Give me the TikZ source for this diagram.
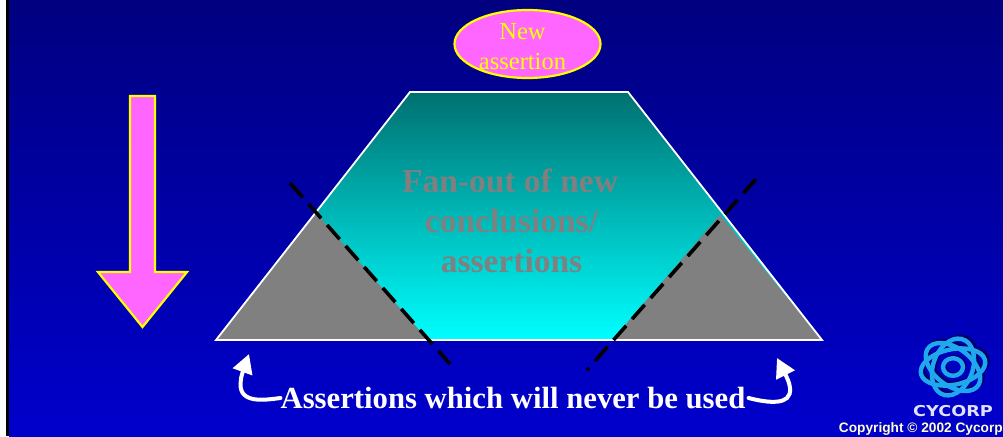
\documentclass[tikz,border=0pt]{standalone}
\usepackage{fontspec}
\setmainfont{Liberation Serif}
\newfontfamily\arialf{Liberation Sans}
\newfontfamily\widef{DejaVu Sans}
\usetikzlibrary{shapes.geometric,arrows.meta,bending}
\definecolor{pinkfill}{HTML}{FF66FF}
\definecolor{yel}{HTML}{FFFF00}
\definecolor{bgtop}{HTML}{000080}
\definecolor{bgbot}{HTML}{0000CC}
\definecolor{teal}{HTML}{007070}
\definecolor{grayfill}{HTML}{808080}
\definecolor{cyanfill}{HTML}{00FFFF}
\definecolor{ring}{HTML}{1FA8F0}
\definecolor{ringshade}{HTML}{000066}
\tikzset{
  pinkshape/.style={fill=pinkfill,draw=yel,line width=2.2pt},
  cutline/.style={draw=black,line width=3.6pt,dash pattern=on 19pt off 9pt},
  greytri/.style={fill=grayfill,draw=none},
  curvearrow/.style={draw=white,line width=4pt,line cap=round,-{Triangle[length=19pt,width=20pt,flex=0]}},
  logoring/.style={draw=ring,line width=4.4pt},
  logoshade/.style={draw=ringshade,line width=4.8pt},
}
\begin{document}
\begin{tikzpicture}[x=1pt,y=-1pt]
\useasboundingbox (0,0) rectangle (1003,436);
\fill[white] (0,0) rectangle (6.3,436);
\fill[black] (6.3,0) rectangle (9.5,436);
\shade[top color=bgtop,bottom color=bgbot] (9,0) rectangle (1003,436);
% trapezoid
\shade[top color=teal,bottom color=cyanfill] (410,92) -- (628,92) -- (822,340) -- (216,340) -- cycle;
\fill[greytri] (316,213) -- (428,340) -- (216,340) -- cycle;
\fill[greytri] (720,215) -- (822,340) -- (612,340) -- cycle;
\draw[white,line width=1.8pt,line join=miter] (216,340) -- (410,92) -- (628,92) -- (822,340) -- cycle;
\coordinate (cutAa) at (290,183);
\coordinate (cutAb) at (450,364);
\coordinate (cutBa) at (756,179);
\coordinate (cutBb) at (587,370);
\draw[cutline] (cutAa) -- (cutAb);
\draw[cutline] (cutBa) -- (cutBb);
\node[font=\bfseries\fontsize{33.5}{40}\selectfont,text=grayfill,align=center,inner sep=0] (fan) at (511.5,220.5) {\kern-3pt Fan-out of new\\conclusions/\\assertions};
% new assertion
\node[ellipse,pinkshape,minimum width=146pt,minimum height=68pt,inner sep=0] (newa) at (527.5,44) {};
\node[font=\fontsize{24.5}{30}\selectfont,text=yel,align=center,inner sep=0] (newt) at (522.5,46.5) {New\\assertion};
% down arrow
\draw[pinkshape,line join=miter] (130,96) -- (155,96) -- (155,272) -- (187,272) -- (142.5,327) -- (98,272) -- (130,272) -- cycle;
% caption
\node[font=\bfseries\fontsize{30.7}{34}\selectfont,text=white,inner sep=0] (cap) at (513,398) {Assertions which will never be used};
\coordinate (tipL) at (249,354);
\coordinate (tipR) at (777,358);
\draw[curvearrow] (cap.west) .. controls (265,400) and (240,404) .. (240.5,384) .. controls (240.7,378) and (241,376) .. (tipL);
\draw[curvearrow] ([xshift=3pt]cap.east) .. controls (768,403) and (792,406) .. (790,388) .. controls (789,380) and (786,376) .. (tipR);
% logo
\begin{scope}[shift={(953,367)},yscale=0.88]
  \foreach \a in {15,75,135}{
    \draw[logoshade,xshift=2pt,yshift=2pt,rotate=\a] (0,0) ellipse[x radius=33,y radius=20];
  }
  \foreach \a in {15,75,135}{
    \draw[logoring,rotate=\a] (0,0) ellipse[x radius=33,y radius=20];
  }
  \draw[logoshade,xshift=1pt,yshift=1pt] (0,0) circle[radius=10];
  \draw[logoring] (0,0) circle[radius=10];
\end{scope}
\node[font=\widef\bfseries\fontsize{15}{16}\selectfont,text=white!88!blue,inner sep=0,xscale=1.18] (logot) at (953,411) {CYCORP};
\node[font=\arialf\bfseries\fontsize{13.7}{15}\selectfont,text={rgb,255:red,255;green,255;blue,204},anchor=east,inner sep=0] (copy) at (1003,429) {Copyright © 2002 Cycorp};
\end{tikzpicture}
\end{document}
